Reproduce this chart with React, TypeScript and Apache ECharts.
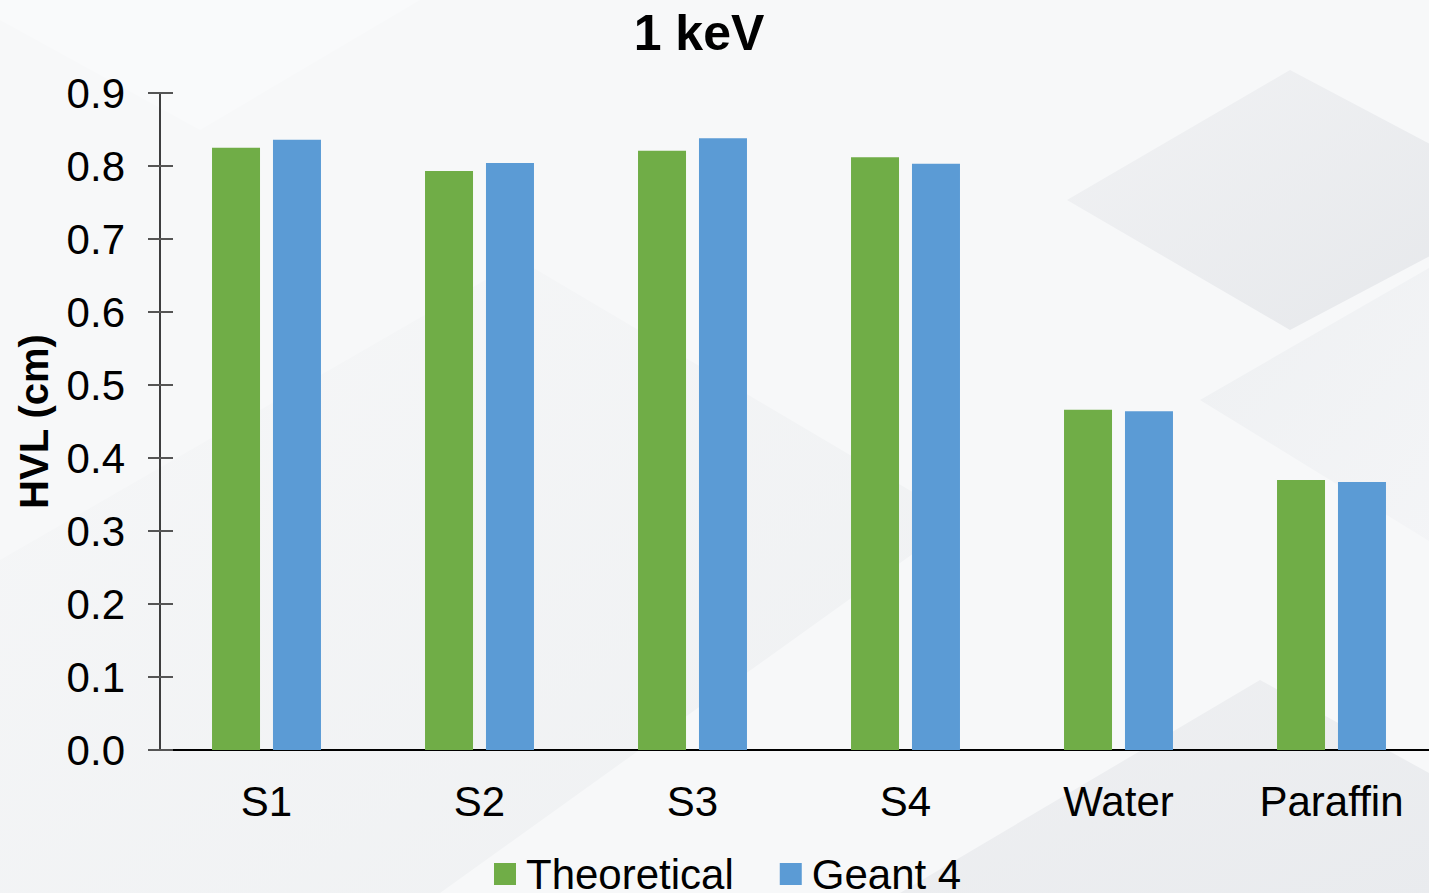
import React, { useEffect, useRef } from "react";
import * as echarts from "echarts";

// Half-value layer at 1 keV per material
const categories = ["S1", "S2", "S3", "S4", "Water", "Paraffin"];
const theoretical = [0.825, 0.793, 0.821, 0.812, 0.466, 0.37];
const geant4 = [0.836, 0.804, 0.838, 0.803, 0.464, 0.367];
const yTicks = [0, 0.9, 0.1]; // min, max, interval

const FONT = "Liberation Sans, Arial, sans-serif";

export default function App() {
  const ref = useRef<HTMLDivElement>(null);

  useEffect(() => {
    if (!ref.current) return;
    const chart = echarts.init(ref.current, null, { renderer: "svg" });
    const [yMin, yMax, yInt] = yTicks;

    const soft = (c1: string, c2: string) => ({
      type: "linear",
      x: 0,
      y: 0,
      x2: 1,
      y2: 1,
      colorStops: [
        { offset: 0, color: c1 },
        { offset: 1, color: c2 },
      ],
    });

    chart.setOption({
      animation: false,
      backgroundColor: "#f7f8f9",
      graphic: [
        {
          type: "polygon",
          z: -10,
          silent: true,
          shape: { points: [[1067, 200], [1290, 70], [1460, 160], [1460, 240], [1290, 330]] },
          style: { fill: soft("#f1f2f4", "#e6e8eb") },
        },
        {
          type: "polygon",
          z: -10,
          silent: true,
          shape: { points: [[1200, 400], [1460, 250], [1460, 560]] },
          style: { fill: soft("#eef0f2", "#f4f5f7") },
        },
        {
          type: "polygon",
          z: -10,
          silent: true,
          shape: { points: [[0, 560], [520, 260], [960, 520], [440, 893], [0, 893]] },
          style: { fill: soft("#f6f7f8", "#eceef0"), opacity: 0.8 },
        },
        {
          type: "polygon",
          z: -10,
          silent: true,
          shape: { points: [[900, 893], [1260, 680], [1460, 790], [1460, 893]] },
          style: { fill: soft("#eff0f2", "#e9ebee") },
        },
        {
          type: "polygon",
          z: -10,
          silent: true,
          shape: { points: [[0, 0], [420, 0], [200, 130], [0, 20]] },
          style: { fill: "#f9fafb" },
        },
      ],
      title: {
        text: "1 keV",
        left: 694,
        textAlign: "center",
        top: 3,
        textStyle: { fontFamily: FONT, fontSize: 50, fontWeight: "bold", color: "#000" },
      },
      legend: {
        left: 489,
        top: 848,
        itemWidth: 22,
        itemHeight: 22,
        itemGap: 46,
        icon: "rect",
        textStyle: { fontFamily: FONT, fontSize: 42, color: "#000", padding: [0, 0, 0, 5] },
        data: ["Theoretical", "Geant 4"],
      },
      grid: {
        left: 160,
        right: -9,
        top: 93,
        bottom: 143,
        containLabel: false,
        outerBoundsMode: "none",
      },
      xAxis: {
        type: "category",
        data: categories,
        axisLine: { lineStyle: { color: "#000", width: 2 } },
        axisTick: { show: false },
        axisLabel: { fontFamily: FONT, fontSize: 42, color: "#000", margin: 30 },
      },
      yAxis: [
        {
          type: "value",
          min: yMin,
          max: yMax,
          interval: yInt,
          name: "HVL (cm)",
          nameLocation: "middle",
          nameGap: 106,
          nameTextStyle: { fontFamily: FONT, fontSize: 40, fontWeight: "bold", color: "#000" },
          axisLine: { show: true, lineStyle: { color: "#000", width: 1.5 } },
          axisTick: { show: true, length: 12, lineStyle: { color: "#555", width: 2 } },
          axisLabel: {
            fontFamily: FONT,
            fontSize: 42,
            color: "#000",
            margin: 35,
            formatter: (v: number) => v.toFixed(1),
          },
          splitLine: { show: false },
        },
        {
          type: "value",
          min: yMin,
          max: yMax,
          interval: yInt,
          position: "left",
          axisLine: { show: false },
          axisTick: { show: true, inside: true, length: 13, lineStyle: { color: "#555", width: 2 } },
          axisLabel: { show: false },
          splitLine: { show: false },
        },
      ],
      series: [
        {
          name: "Theoretical",
          type: "bar",
          data: theoretical,
          itemStyle: { color: "#70ad47" },
          barWidth: 48,
          barGap: "27%",
        },
        {
          name: "Geant 4",
          type: "bar",
          data: geant4,
          itemStyle: { color: "#5b9bd5" },
          barWidth: 48,
          barGap: "27%",
        },
      ],
    });
    return () => chart.dispose();
  }, []);

  return (
    <div
      ref={ref}
      style={{ position: "fixed", left: 0, top: 0, width: 1429, height: 893 }}
    />
  );
}
